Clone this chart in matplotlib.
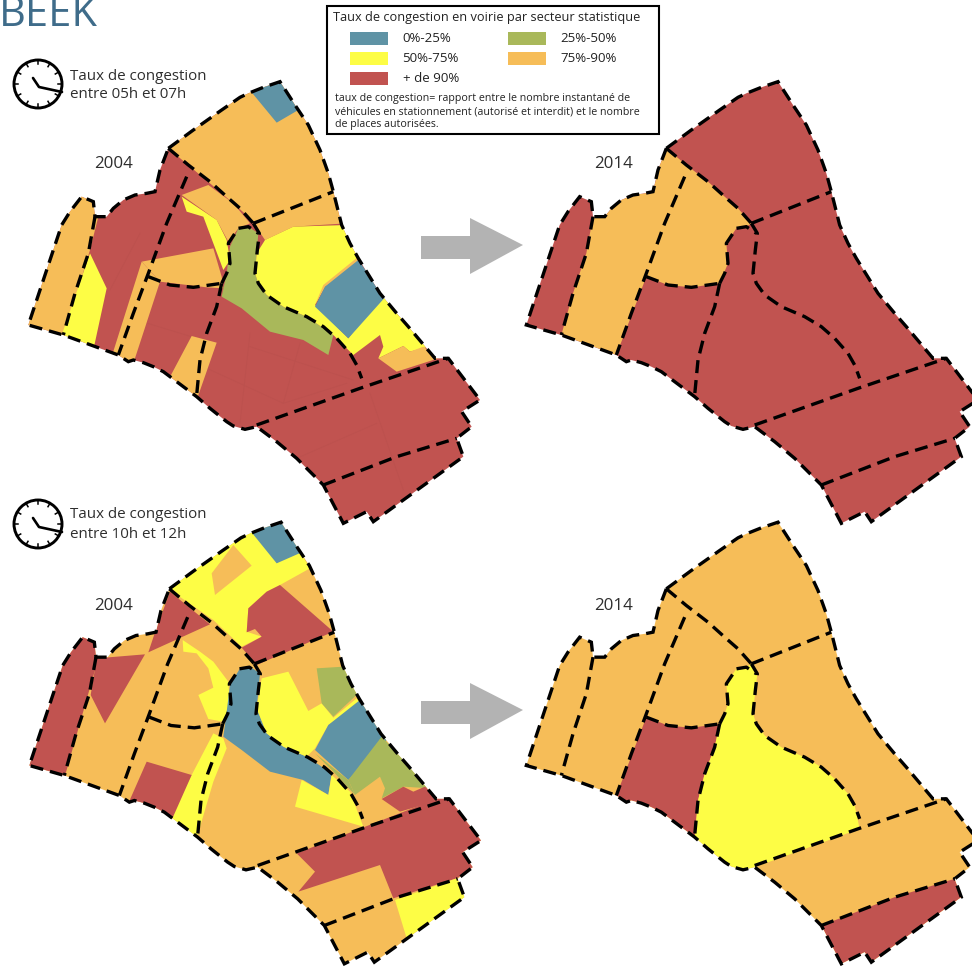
import numpy as np
import matplotlib
matplotlib.use("Agg")
import matplotlib.pyplot as plt
from matplotlib.patches import Polygon, Rectangle, Circle

plt.rcParams['font.family'] = ['Open Sans', 'DejaVu Sans']

BLUE, GREEN, YELLOW, ORANGE, RED = '#5f93a5', '#a9b85a', '#fdfd45', '#f6bd58', '#c15350'
DASH = (0, (3.9, 2.1))

# ---- legend content
legend_title = "Taux de congestion en voirie par secteur statistique"
legend_labels = ["0%-25%", "25%-50%", "50%-75%", "75%-90%", "+ de 90%"]
legend_colors = [BLUE, GREEN, YELLOW, ORANGE, RED]
legend_note = ["taux de congestion= rapport entre le nombre instantané de",
               "véhicules en stationnement (autorisé et interdit) et le nombre",
               "de places autorisées."]

# ---- map geometry: sector boundaries (map units = 3x pixel)
outer = [(505,265),(580,210),(665,150),(720,112),(745,100),(790,82),(840,65),(885,135),(925,195),(960,270),(985,340),(1000,395),
         (1025,495),(1050,550),(1075,595),(1140,700),(1190,760),(1225,800),(1305,895),(1345,895),(1440,1020),(1385,1055),
         (1415,1100),(1370,1135),(1390,1190),(1120,1385),(1100,1355),(1030,1390),(970,1275),(890,1195),(830,1145),
         (770,1100),(735,1108),(700,1098),(680,1085),(630,1045),(590,1010),(550,980),(510,950),(490,935),(460,920),(430,908),(400,900),(385,905),(355,885),(190,825),
         (85,795),(130,660),(185,495),(210,455),(245,410),(280,425),(285,470),(320,470),(340,445),(370,420),(405,405),(440,400),(465,395),(480,330)]
l1 = [(285,470),(265,580),(225,700),(190,825)]
l2 = [(560,350),(500,490),(445,640),(400,760),(355,885)]
l3 = [(505,265),(565,315),(630,365),(680,410),(720,445),(760,490)]
l4 = [(760,490),(1000,395)]
l5 = [(445,650),(510,675),(580,682),(665,670)]
l6 = [(665,670),(680,640),(690,610),(685,550),(715,505),(745,500),(775,520)]
l6b = [(760,490),(778,520),(772,570),(765,640),(775,670),(800,705),(850,740),(920,770),(970,800),(1010,835),(1050,880),(1070,915),(1085,955)]
l7 = [(665,670),(650,740),(620,820),(600,900),(590,1005)]
l8 = [(770,1095),(1080,985),(1345,895)]
l9 = [(970,1275),(1190,1190),(1370,1135)]
lines = [l1, l2, l3, l4, l5, l6, l6b, l7, l8, l9]

# faint street traces in the red zone of the first map
streets = [[(750,820),(720,1090)], [(900,850),(850,1030)], [(1110,1000),(1210,1290)], [(890,1195),(1130,1090)],
           [(610,920),(850,1030),(1040,970)], [(410,780),(640,850)], [(420,520),(330,690)], [(750,860),(1060,960)]]

# ---- 2004, 05h-07h fills (base red)
t04 = [
 (ORANGE, [(505,265),(600,180),(665,130),(745,80),(840,50),(900,130),(940,190),(975,265),(1015,395),(1040,490),(880,500),(795,540),(775,510),(745,470),(700,430),(630,370)]),
 (BLUE, [(745,85),(835,50),(895,150),(830,188)]),
 (ORANGE, [(70,795),(170,495),(235,395),(290,410),(295,470),(270,570),(190,835),(70,810)]),
 (YELLOW, [(270,580),(320,685),(280,870),(180,840)]),
 (ORANGE, [(425,605),(480,665),(400,910),(335,890)]),
 (ORANGE, [(425,605),(640,565),(665,650),(670,685),(620,682),(480,665)]),
 (ORANGE, [(545,405),(625,375),(700,430),(750,490),(715,505),(685,545),(650,480)]),
 (YELLOW, [(545,410),(590,440),(650,480),(680,540),(690,600),(670,630),(640,550),(610,470),(560,455)]),
 (ORANGE, [(575,828),(650,848),(590,1020),(505,960)]),
 (GREEN, [(745,500),(775,520),(765,640),(775,670),(800,705),(850,740),(920,770),(1000,825),(985,885),(910,840),(810,815),(725,745),(665,710),(680,640),(690,560),(715,505)]),
 (YELLOW, [(795,540),(880,500),(1040,495),(1090,595),(975,680),(945,735),(1000,790),(1045,835),(1145,705),(1240,800),(1285,860),(1230,875),(1210,858),(1135,895),(1150,860),(1140,825),(1060,885),(1000,825),(920,770),(850,740),(800,705),(775,670),(765,640),(770,580)]),
 (ORANGE, [(1075,590),(970,675),(945,735),(975,680),(1075,610)]),
 (BLUE, [(1075,600),(1155,712),(1045,835),(945,740),(975,680)]),
 (ORANGE, [(1135,895),(1210,858),(1230,875),(1270,860),(1315,895),(1190,935)]),
]
# ---- 2004, 10h-12h fills (base orange), own crop units
b04 = [
 (YELLOW, [(510,285),(600,200),(745,95),(890,155),(930,220),(840,270),(800,290),(745,340),(740,410),(785,425),(725,455),(640,375)]),
 (BLUE, [(745,100),(850,65),(905,172),(830,205)]),
 (ORANGE, [(700,150),(755,212),(645,300),(635,235)]),
 (RED, [(840,270),(1000,410),(770,510),(725,458),(785,425),(765,402),(740,412),(745,340),(800,290)]),
 (RED, [(75,812),(170,510),(240,410),(295,425),(295,490),(190,860),(75,830)]),
 (RED, [(290,490),(435,478),(315,685),(272,600)]),
 (RED, [(510,290),(630,388),(445,472),(465,412)]),
 (YELLOW, [(548,435),(600,470),(640,500),(685,560),(690,640),(670,680),(625,672),(595,600),(640,578),(625,520),(590,475),(550,470)]),
 (BLUE, [(750,515),(780,535),(770,640),(800,715),(850,755),(920,785),(995,835),(985,900),(910,855),(810,830),(725,765),(670,725),(680,650),(690,570),(720,520)]),
 (YELLOW, [(670,730),(680,760),(640,860),(590,1030),(505,975),(575,840),(640,715)]),
 (RED, [(440,800),(575,840),(515,975),(460,950),(385,925)]),
 (YELLOW, [(785,550),(865,530),(925,648),(965,625),(1000,668),(1070,610),(1080,625),(985,690),(945,760),(920,785),(850,755),(800,715),(770,640)]),
 (GREEN, [(950,520),(1030,515),(1075,595),(1000,665),(965,625)]),
 (BLUE, [(1080,615),(1160,735),(1045,855),(945,765),(985,690)]),
 (GREEN, [(1145,725),(1290,880),(1210,875),(1145,910),(1155,880),(1140,845),(1065,900),(1045,855)]),
 (GREEN, [(945,775),(1045,855),(1065,900),(1000,830)]),
 (RED, [(1145,912),(1210,875),(1240,890),(1275,875),(1320,915),(1200,950)]),
 (YELLOW, [(905,855),(985,900),(995,840),(1050,890),(1090,995),(885,935)]),
 (RED, [(890,1075),(1340,900),(1460,1035),(1400,1070),(1435,1110),(1370,1150),(1180,1210),(1140,1110),(895,1190),(945,1130)]),
 (YELLOW, [(1185,1215),(1370,1150),(1405,1205),(1220,1330)]),
]
# ---- 2014 fills
t14 = [
 (ORANGE, [(285,470),(320,470),(340,445),(370,420),(405,405),(440,400),(465,395),(480,330),(505,265),(565,315),(630,365),(680,410),(720,445),(760,490),(745,500),(715,505),(685,550),(690,610),(665,670),(580,682),(510,675),(445,650),(355,885),(190,825),(225,700),(265,580)]),
]
b14 = [
 (RED, [(445,650),(510,675),(580,682),(665,670),(650,740),(620,820),(600,900),(590,1010),(550,980),(510,950),(490,935),(460,920),(430,908),(400,900),(385,905),(355,885)]),
 (YELLOW, [(665,670),(680,640),(690,610),(685,550),(715,505),(745,500),(760,490),(778,520),(772,570),(765,640),(775,670),(800,705),(850,740),(920,770),(970,800),(1010,835),(1050,880),(1070,915),(1085,985),(770,1100),(735,1108),(700,1098),(680,1085),(630,1045),(590,1010),(600,900),(620,820),(650,740)]),
 (RED, [(970,1275),(1190,1190),(1370,1135),(1390,1190),(1120,1385),(1100,1355),(1030,1390)]),
]

fig = plt.figure(figsize=(9.72, 9.67), dpi=100)
ax = fig.add_axes([0, 0, 1, 1])
ax.set_xlim(0, 972); ax.set_ylim(967, 0); ax.axis('off')

def px(pts, dx, dy):
    a = np.array(pts, float)
    return np.c_[a[:, 0] / 3 + dx, a[:, 1] / 3 + dy]

def draw_map(base, fills, dx, dy, fdx=None, fdy=None):
    fdx = dx if fdx is None else fdx
    fdy = dy if fdy is None else fdy
    o = Polygon(px(outer, dx, dy), closed=True, fc=base, ec='none', zorder=1)
    ax.add_patch(o)
    for col, pts in fills:
        p = Polygon(px(pts, fdx, fdy), closed=True, fc=col, ec='none', zorder=2)
        ax.add_patch(p)
        p.set_clip_path(o)
    ax.add_patch(Polygon(px(outer, dx, dy), closed=True, fc='none', ec='black', lw=2.4,
                         ls=DASH, zorder=3))
    for l in lines:
        q = px(l, dx, dy)
        ax.plot(q[:, 0], q[:, 1], color='black', lw=2.4, ls=DASH, zorder=3)

draw_map(RED, t04, 0, 60)
for s in streets:
    q = px(s, 0, 60)
    ax.plot(q[:, 0], q[:, 1], color='#bc514e', lw=0.6, zorder=1.5)
draw_map(RED, t14, 498, 60)
draw_map(ORANGE, b04, 1, 500.5, 0, 495)
draw_map(ORANGE, b14, 498, 500.5)

# arrows
for dy in (0, 465):
    ax.add_patch(Polygon([(421,236+dy),(470,236+dy),(470,218+dy),(523,245+dy),(470,274+dy),(470,259+dy),(421,259+dy)],
                         closed=True, fc='#b3b3b3', ec='none'))

# clocks
def clock(cx, cy):
    ax.add_patch(Circle((cx, cy), 24, fc='none', ec='black', lw=2.1))
    for a in np.arange(0, 360, 30):
        r = np.radians(a)
        ax.plot([cx+20*np.cos(r), cx+24*np.cos(r)], [cy+20*np.sin(r), cy+24*np.sin(r)], color='black', lw=1.1)
    ax.plot([cx-5, cx+1, cx+24], [cy-6, cy+3, cy+8], color='black', lw=1.9, solid_capstyle='round')
clock(38, 84); clock(38, 524)

TXT = '#2e2e2e'
ax.text(70, 76, "Taux de congestion", fontsize=10.9, color=TXT, va='center')
ax.text(70, 95, "entre 05h et 07h", fontsize=10.9, color=TXT, va='center')
ax.text(70, 515, "Taux de congestion", fontsize=10.9, color=TXT, va='center')
ax.text(70, 534, "entre 10h et 12h", fontsize=10.9, color=TXT, va='center')
ax.text(114, 164, "2004", fontsize=12.2, color=TXT, va='center', ha='center')
ax.text(114, 606, "2004", fontsize=12.2, color=TXT, va='center', ha='center')
ax.text(614, 164, "2014", fontsize=12.2, color=TXT, va='center', ha='center')
ax.text(614, 606, "2014", fontsize=12.2, color=TXT, va='center', ha='center')
ax.text(-1, 26, "BEEK", fontsize=30, color='#3f6c8a', va='baseline', clip_on=True)

# legend
ax.add_patch(Rectangle((327, 6), 332, 128, fc='white', ec='black', lw=1.5, zorder=5))
ax.text(333, 17, legend_title, fontsize=9.2, color='#222222', va='center', zorder=6)
sw = [(350,32),(508,32),(350,52),(508,52),(350,72)]
for (x, y), lab, col in zip(sw, legend_labels, legend_colors):
    ax.add_patch(Rectangle((x, y), 38, 13, fc=col, ec='none', zorder=6))
    ax.text(x+52.5, y+7, lab, fontsize=9.5, color='#222222', va='center', zorder=6)
for y, s in zip((98, 111.5, 124.5), legend_note):
    ax.text(335, y, s, fontsize=7.65, color='#222222', va='center', zorder=6)

fig.savefig('out.png', dpi=100)
